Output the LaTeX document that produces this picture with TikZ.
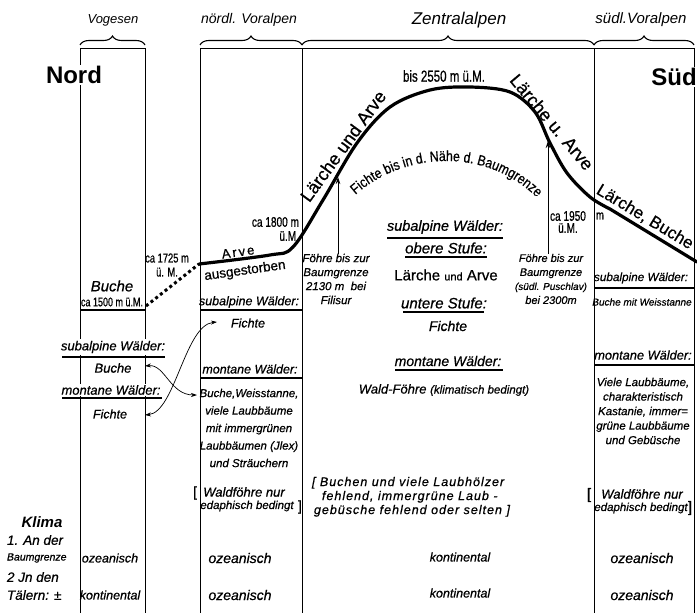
\documentclass[tikz,border=0pt]{standalone}
\usepackage{fontspec}
\setmainfont{Liberation Sans}[FakeBold=0.6]
\newfontfamily\thinf{Liberation Sans}
\newfontfamily\cnd{Liberation Sans}[FakeStretch=0.72, FakeBold=0.6]
\newfontfamily\cndb{Liberation Sans}[FakeStretch=0.85, FakeBold=0.6]
\newfontfamily\spc{Liberation Sans}[LetterSpace=8, FakeBold=0.6]
\newfontfamily\bigf{Liberation Sans Bold}
\usetikzlibrary{arrows.meta,decorations.pathreplacing,decorations.text}
\newcommand\fs[2]{\fontsize{#1}{#2}\selectfont}
\tikzset{
  every node/.style={inner sep=0pt, outer sep=0pt},
  colline/.style={line width=0.9pt},
  brc/.style={line width=1.1pt, decorate, decoration={brace, amplitude=9pt}},
  tline/.style={line width=3.2pt, line cap=round, line join=round},
  dotl/.style={line width=3pt, dash pattern=on 3pt off 3pt},
  rule/.style={line width=1.8pt},
  ul/.style={line width=1.1pt},
  dbl/.style={line width=0.7pt, {Stealth[length=6pt,width=4pt]}-{Stealth[length=6pt,width=4pt]}},
  upar/.style={line width=0.8pt, -{Stealth[length=7pt,width=4.5pt]}},
  wb/.style={fill=white, inner sep=1.5pt},
  itf/.style={font=\itshape\fs{#1}{#1}},
  hdr/.style={font=\thinf\itshape\fs{#1}{#1}},
}
\begin{document}
\begin{tikzpicture}[x=1pt,y=-1pt]
\useasboundingbox (0,0) rectangle (697,613);
\fill[white] (0,0) rectangle (697,613);

% columns
\draw[colline] (80,613) -- (80,48) -- (145,48) -- (145,613);
\draw[colline] (200,613) -- (200,48) -- (694,48) -- (694,613);
\draw[colline] (302,48) -- (302,613);
\draw[colline] (594,48) -- (594,613);

% braces and headers
\draw[brc] (80,45) -- (145,45);
\draw[brc] (200,45) -- (302,45);
\draw[brc] (302,45) -- (594,45);
\draw[brc] (594,45) -- (694,45);
\node[hdr=13] (hV) at (113,20) {Vogesen};
\node[hdr=14] (hN) at (249,20) {nördl. Voralpen};
\node[hdr=17] (hZ) at (459,20) {Zentralalpen};
\node[hdr=15] (hS) at (641,20) {südl.Voralpen};

\node[wb, font=\bigf\fs{24}{24}] (nord) at (74,75) {Nord};
\node[wb, font=\bigf\fs{24}{24}] (sued) at (674,77) {Süd};

% tree line
\draw[dotl] (146,306) -- (199,264);
\draw[tline] plot[smooth, tension=0.55] coordinates {(199,264) (270,255) (293,247) (323,200) (357,143) (390,107) (430,90) (470,87) (510,92) (535,112) (550,143) (567,173) (590,197) (610,209)} -- (697,262);
\draw[line width=2.5pt] (80,310) -- (145,310);

% Vogesen
\node[itf=15] (vBuche) at (112,286) {Buche};
\node[font=\cnd\fs{12.5}{12.5}] (v1500) at (112,302) {ca 1500 m ü.M.};
\node[itf=13, wb] (vSub) at (113,347) {subalpine Wälder:};
\draw[ul] (62,357) -- (165,357);
\node[itf=13, wb] (vBu2) at (113,368) {Buche};
\node[itf=13, wb] (vMon) at (111,390) {montane Wälder:};
\draw[ul] (62,398) -- (162,398);
\node[itf=12.5, wb] (vFi) at (110,414) {Fichte};
\node[font=\cnd\fs{13}{14}, align=center] (c1725) at (167,265) {ca 1725 m\\ü. M.};

% nördl. Voralpen
\node[font=\fs{13}{13}, rotate=8] (arve) at (238,252) {A\kern2pt r\kern2pt v\kern2pt e};
\node[font=\fs{13.5}{13.5}, rotate=8] (ausg) at (245,271) {ausgestorben};
\node[font=\cnd\fs{14}{14}, align=right, anchor=east] (c1800) at (299,229) {ca 1800 m\\ü.M.};
\node[itf=12.5] (nSub) at (249,302) {subalpine Wälder:};
\draw[rule] (200,310) -- (302,310);
\node[itf=12.5] (nFi) at (248,323) {Fichte};
\node[itf=12.5] (nMon) at (250,369) {montane Wälder:};
\draw[rule] (200,378) -- (302,378);
\node[font=\itshape\fs{11.5}{17.5}, align=center] (nBlk) at (249,428) {Buche,Weisstanne,\\viele Laubbäume\\mit immergrünen\\Laubbäumen (Jlex)\\und Sträuchern};
\node[font=\fs{14}{14}] (nbl) at (195,493) {[};
\node[itf=13] (nW1) at (244,492) {Waldföhre nur};
\node[itf=11.5] (nW2) at (247,506) {edaphisch bedingt};
\node[font=\fs{14}{14}] (nbr) at (300,507) {]};
\node[itf=14] (nO1) at (240,558) {ozeanisch};
\node[itf=14] (nO2) at (240,595) {ozeanisch};

% connectors Vogesen <-> nördl. Voralpen
\coordinate (vFa) at (145,415);
\coordinate (nFa) at (217,322);
\coordinate (vBa) at (145,366);
\coordinate (nBa) at (197,395);
\draw[dbl] (vFa) .. controls (175,412) and (185,325) .. (nFa);
\draw[dbl] (vBa) .. controls (165,364) and (170,395) .. (nBa);

% Zentralalpen
\node[font=\fs{18}{18}, rotate=54] (lua) at (343,146) {Lärche und Arve};
\node[font=\cnd\fs{16}{16}] (b2550) at (444,76) {bis 2550 m ü.M.};
\node[font=\fs{18}{18}, rotate=-50] (lua2) at (552,122) {Lärche u. Arve};
\path[decorate, decoration={text along path, text align=center, text={|\cndb\fs{14.5}{14.5}|Fichte bis in d. Nähe d. Baumgrenze}}] (350,200) .. controls (400,150) and (490,145) .. (542,203);

\node[font=\itshape\fs{11.5}{14}, align=center] (fL) at (336,279) {Föhre bis zur\\Baumgrenze\\2130 m\ \ bei\\Filisur};
\coordinate (cL) at (338,177);
\draw[upar] (fL.north -| cL) -- (cL);
\node[font=\itshape\fs{11}{14}, align=center] (fR) at (551,279) {Föhre bis zur\\Baumgrenze\\{\fs{10}{14}(südl. Puschlav)}\\bei 2300m};
\coordinate (cR) at (548,141);
\draw[upar] (fR.north -| cR) -- (cR);
\node[font=\cnd\fs{14}{12}, align=center] (c1950) at (568,222) {ca 1950\\ü.M.};
\node[font=\cnd\fs{13}{13}] (c1950m) at (600,216) {m};

\node[itf=14.5] (zSub) at (445,227) {subalpine Wälder:};
\draw[ul] (387,238) -- (503,238);
\node[itf=15] (zOb) at (446,248) {obere Stufe:};
\draw[ul] (405,257) -- (487,257);
\node[font=\fs{15}{15}] (zLA) at (446,275) {Lärche {\fs{11}{11}und} Arve};
\node[itf=15] (zUn) at (444,303) {untere Stufe:};
\draw[ul] (403,312) -- (484,312);
\node[itf=14] (zFi) at (448,326) {Fichte};
\node[itf=14] (zMon) at (448,361) {montane Wälder:};
\draw[ul] (395,370) -- (503,370);
\node[itf=13] (zWF) at (444,390) {Wald-Föhre {\fs{11.5}{11.5}(klimatisch bedingt)}};
\node[font=\spc\itshape\fs{12.5}{14}, align=left, anchor=north west] (zBr) at (312,477) {[ Buchen und viele Laubhölzer\\\hspace*{10pt}fehlend, immergrüne Laub -\\\hspace*{2pt}gebüsche fehlend oder selten ]};
\node[itf=12.5] (zK1) at (460,557) {kontinental};
\node[itf=12.5] (zK2) at (460,593) {kontinental};

% südl. Voralpen
\node[font=\fs{17}{17}, rotate=-31] (lb) at (645,217) {Lärche, Buche};
\node[itf=11.75] (sSub) at (641,278) {subalpine Wälder:};
\draw[rule] (594,288) -- (694,288);
\node[font=\itshape\fs{10}{10}] (sBu) at (642,302) {Buche mit Weisstanne};
\node[itf=12.8] (sMon) at (643,355) {montane Wälder:};
\draw[rule] (594,365) -- (694,365);
\node[font=\itshape\fs{11.5}{14.5}, align=center] (sBlk) at (643,411) {Viele Laubbäume,\\charakteristisch\\Kastanie, immer=\\grüne Laubbäume\\und Gebüsche};
\node[font=\fs{15}{15}] (sbl) at (589,495) {[};
\node[itf=13] (sW1) at (642,494) {Waldföhre nur};
\node[itf=11.5] (sW2) at (641,508) {edaphisch bedingt};
\node[font=\fs{15}{15}] (sbr) at (690,508) {]};
\node[itf=14] (sO1) at (642,558) {ozeanisch};
\node[itf=14] (sO2) at (642,595) {ozeanisch};

% Klima
\node[font=\bigf\itshape\fs{15}{15}] (klima) at (42,522) {Klima};
\node[itf=13.5, anchor=west] (k1) at (7,540) {1. An der};
\node[itf=10.5, anchor=west] (k1b) at (7,558) {Baumgrenze};
\node[itf=13.5, anchor=west] (k2) at (7,577) {2 Jn den};
\node[itf=13.5, anchor=west] (k2b) at (7,595) {Tälern: ±};
\node[itf=12.5] (vO) at (110,558) {ozeanisch};
\node[itf=12.5] (vK) at (110,595) {kontinental};
\end{tikzpicture}
\end{document}
